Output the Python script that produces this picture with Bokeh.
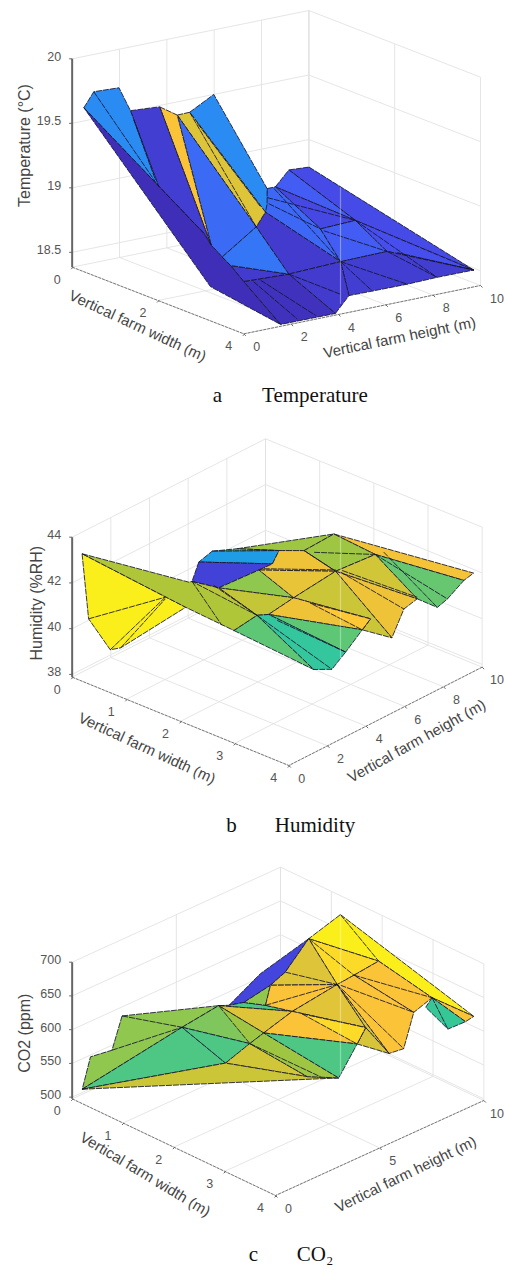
import numpy as np
from bokeh.plotting import figure
from bokeh.embed import file_html
from bokeh.resources import INLINE
from bokeh.models import Range1d
from bokeh.core.properties import value

# ---- data: surface nodes (width m, height m, value) ----
temp_w=[2.00,3.92,2.54,2.00,2.00,2.24,2.00,2.98,2.00,2.95,3.66,3.69,3.68,3.67,2.00,3.00,3.96,2.98,3.95,2.45,1.37,1.27,2.00,1.23,2.15,1.75,1.02,0.68,1.54,1.01,0.14,0.25,0.55,2.56,0.72,0.97,1.46,2.00,3.02,3.92,3.02,3.93,2.00,2.00,2.29,3.60,3.03,2.00]
temp_h=[6.38,9.86,7.36,5.53,4.96,6.43,4.61,5.94,4.54,7.96,8.78,7.47,6.01,5.04,4.15,3.71,3.94,1.84,1.64,2.25,2.48,3.68,4.61,2.21,2.44,2.70,1.85,1.23,2.78,1.83,0.24,0.46,0.98,1.20,1.30,1.76,2.64,4.33,2.19,2.40,2.49,3.16,4.90,4.68,6.48,4.81,8.24,4.61]
temp_v=[19.18,18.50,18.80,19.19,19.08,18.73,19.08,18.59,18.90,18.59,18.45,18.45,18.45,18.45,18.80,18.58,18.39,18.59,18.39,18.63,19.67,19.75,18.96,19.64,18.65,18.68,19.69,19.64,18.74,19.07,19.63,19.76,19.81,18.52,19.57,19.12,19.59,18.95,18.58,18.40,18.58,18.40,19.07,18.96,18.72,18.46,18.58,19.01]
temp_faces=[[0,1,2,3],[4,3,2],[4,2,5],[6,4,5,7,8],[5,2,9,7],[2,1,9],[7,9,1,10,11,12,13],[14,8,7,15],[15,7,13,16],[17,15,16,18],[19,15,17],[20,21,6,22,8],[23,20,8,14],[23,14,24,25],[26,23,25],[27,26,25,28,29],[30,31,32,27,29,28],[24,14,15,19],[30,28,25,24,19,17,18,33]]
temp_levels=[.12,.17,.11,.20,.17,.13,.08,.07,.07,.04,.07,.30,.80,.21,.85,.08,.30,.24,.03]
temp_edges=[[31,29],[34,35],[20,14],[36,37],[38,39],[40,41],[42,7],[43,5],[44,9],[7,12],[7,11],[2,10],[15,45],[9,10],[46,1],[47,2]]

hum_w=[1.94,3.92,3.83,2.74,3.68,3.59,3.40,0.96,1.68,1.32,2.34,0.86,1.36,0.90,1.29,1.26,1.06,3.28,3.24,2.08,3.01,2.97,2.16,2.03,1.85,2.36,3.15,3.25,3.16,0.09,0.15,0.35,0.45,1.05,1.05,0.86,0.86,1.63,1.21,2.37,2.42,2.43,3.40,2.84,1.84,1.30,2.33]
hum_h=[8.10,9.78,9.53,8.00,9.10,8.83,8.32,5.84,7.29,7.00,7.07,4.83,6.55,4.03,6.05,4.05,3.23,7.97,7.46,5.63,6.57,7.11,4.11,3.87,3.18,5.71,5.32,4.33,3.64,0.26,0.43,0.99,1.25,2.93,3.09,2.41,2.41,3.18,3.93,3.97,7.10,7.16,8.32,8.16,7.36,6.27,7.11]
hum_v=[42.53,42.01,41.71,42.45,40.94,40.60,41.01,41.91,41.90,41.68,41.73,42.14,41.33,42.05,41.21,41.26,41.70,40.60,39.52,40.94,40.03,40.24,40.94,40.88,40.34,40.94,39.73,39.50,39.70,43.25,40.39,38.99,39.06,40.69,41.72,41.17,41.10,40.35,41.37,40.94,41.76,41.81,41.08,42.58,41.95,41.18,41.76]
hum_faces=[[0,1,2,3],[3,2,4,5,6],[7,0,8,9],[0,3,10,8],[11,7,9],[11,9,12,13],[13,12,14,15,16],[9,8,10,14,12],[10,3,6],[10,6,17,18],[15,14,19],[14,10,19],[19,10,18,20,21],[15,19,22,23],[16,15,23,24],[22,19,21,20],[25,21,20],[22,20,26],[23,22,26,27,28],[24,23,28],[29,30,31,32,33],[29,34,16,23,24,33]]
hum_levels=[.84,.63,.70,.70,.60,.36,.09,.83,.78,.83,.68,.82,.77,.76,.74,.83,.87,.62,.56,.62,.97,.72]
hum_edges=[[30,35],[31,35],[32,36],[16,37],[38,23],[23,27],[39,26],[40,17],[41,42],[3,4],[43,5],[44,3],[45,46],[8,10]]

co2_w=[1.38,3.90,3.49,2.43,1.17,3.82,3.65,3.43,1.21,1.03,1.18,1.20,1.25,2.22,2.07,1.16,1.39,1.72,3.31,3.21,3.07,2.84,2.79,0.49,1.08,0.10,0.18,0.39,1.87,1.90,1.99,1.87,2.90,3.06,2.96,2.13]
co2_h=[9.51,9.76,8.76,8.78,8.50,9.56,9.13,8.60,4.58,6.52,7.35,6.59,5.19,8.11,7.67,4.20,5.89,6.37,8.32,8.08,7.72,7.16,6.87,1.20,2.64,0.24,0.44,0.96,2.80,4.56,3.67,6.48,4.21,5.33,4.70,7.68]
co2_v=[686,622,649,665,657,614,603,635,615,628,624,616,612,646,633,618,603,599,627,573,566,604,582,621,605,512,560,570,578,599,599,599,575,563,570,634]
co2_faces=[[0,1,2,3,4],[2,1,5],[2,5,6,7],[8,9,4,10,11,12],[4,3,13,14],[11,10,4,14],[15,8,12,16,17],[12,11,16],[13,3,2,18],[14,13,18,19,20],[16,11,14,17],[17,14,21],[14,20,21],[21,20,22],[23,15,24,25,26,27],[25,24,28],[24,15,29,30],[24,30,28],[15,17,29],[15,29,30],[29,17,21,22],[31,21,22],[28,30,32],[25,28,32,33],[30,29,33,32],[29,22,33]]
co2_levels=[.97,.85,.57,.10,.92,.80,.60,.68,.85,.85,.85,.81,.79,.79,.68,.60,.66,.60,.80,.70,.85,.92,.78,.77,.70,.60]
co2_edges=[[23,24],[27,24],[30,34],[13,2],[35,18],[14,19],[10,14],[2,6],[4,13],[0,3],[16,14]]

temp_zticks=[18.5,19,19.5,20]; temp_zlabels=["18.5","19","19.5","20"]; temp_wticks=[0,2,4]; temp_hticks=[0,2,4,6,8,10]
hum_zticks=[38,40,42,44]; hum_zlabels=["38","40","42","44"]; hum_wticks=[0,1,2,3,4]; hum_hticks=[0,2,4,6,8,10]
co2_zticks=[500,550,600,650,700]; co2_zlabels=["500","550","600","650","700"]; co2_wticks=[0,1,2,3,4]; co2_hticks=[0,5,10]

# ---- colormap ----
STOPS=[(0.2422,0.1504,0.6603),(0.2810,0.3228,0.9579),(0.1786,0.5289,0.9682),(0.0689,0.6948,0.8394),(0.2161,0.7843,0.5923),(0.6720,0.7793,0.2227),(0.9970,0.7659,0.2199),(0.9769,0.9839,0.0805)]
def col(c):
    t=min(max(c,0),1)*7; i=min(int(t),6); f=t-i
    r=[int(255*(STOPS[i][k]*(1-f)+STOPS[i+1][k]*f)) for k in range(3)]
    return "#%02x%02x%02x"%tuple(r)

# ---- layout of each panel (3x px for projection, page px for captions) ----
PANELS=[
 dict(off=0,O=(215,800),W4=(730,1000),H10=(710,-145),zlim=(18.385,20.0),ztop=175,
  W=temp_w,H=temp_h,V=temp_v,F=temp_faces,L=temp_levels,E=temp_edges,zt=temp_zticks,zl=temp_zlabels,wt=temp_wticks,ht=temp_hticks,
  zlab="Temperature (°C)",zpos=(73,435),wpos=(412,975),wang=24.9,hpos=(1197,1010),hang=11.6,
  cap="a",capname="Temperature",capy=394,capx=217,art=(560,910)),
 dict(off=410,O=(215,800),W4=(865,1065),H10=(580,-295),zlim=(37.88,44.0),ztop=380,
  W=hum_w,H=hum_h,V=hum_v,F=hum_faces,L=hum_levels,E=hum_edges,zt=hum_zticks,zl=hum_zlabels,wt=hum_wticks,ht=hum_hticks,
  zlab="Humidity (%RH)",zpos=(107,578),wpos=(440,1012),wang=24.9,hpos=(1248,990),hang=29,
  cap="b",capname="Humidity",capy=824,capx=231,art=(372,775)),
 dict(off=850,O=(215,745),W4=(825,1035),H10=(625,-285),zlim=(497.5,700.0),ztop=335,
  W=co2_w,H=co2_h,V=co2_v,F=co2_faces,L=co2_levels,E=co2_edges,zt=co2_zticks,zl=co2_zlabels,wt=co2_wticks,ht=co2_hticks,
  zlab="CO2 (ppm)",zpos=(72,548),wpos=(435,970),wang=31,hpos=(1215,970),hang=26,
  cap="c",capname="CO₂",capy=1253,capx=253,art=(192,685)),
]

p=figure(width=505,height=1266,x_range=Range1d(0,505),y_range=Range1d(1266,0),output_backend="svg",toolbar_location=None,min_border=0)
p.axis.visible=False;p.grid.visible=False;p.outline_line_color=None

SANS=value("Liberation Sans");SERIF=value("Liberation Serif")
for P in PANELS:
    off=P['off'];O=np.array(P['O'],float);ew=(np.array(P['W4'],float)-O)/4;eh=np.array(P['H10'],float)/10
    z0,z1=P['zlim'];k=(O[1]-P['ztop'])/(z1-z0)
    def S(w,h,z):
        s=O+ew*w+eh*h; return (s[0]/3,off+(s[1]-k*(z-z0))/3)
    gx=[];gy=[]
    def seg(a,b):
        A=S(*a);B=S(*b);gx.append([A[0],B[0]]);gy.append([A[1],B[1]])
    for w in P['wt']:
        seg((w,0,z0),(w,10,z0));seg((w,10,z0),(w,10,z1))
    for h in P['ht']:
        seg((0,h,z0),(4,h,z0));seg((0,h,z0),(0,h,z1))
    for z in P['zt']:
        seg((0,0,z),(0,10,z));seg((0,10,z),(4,10,z))
    seg((0,10,z0),(0,10,z1))
    p.multi_line(gx,gy,line_color="#e2e2e2",line_width=0.9)
    ax=[S(0,0,z0),S(4,0,z0),S(4,10,z0)]
    p.line([a[0] for a in ax],[a[1] for a in ax],line_color="#777777",line_width=1,line_dash="3 1")
    A=S(0,0,z0);B=S(0,0,z1)
    p.line([A[0],B[0]],[A[1],B[1]],line_color="#666666",line_width=2)
    tx=[];ty=[]
    for z in P['zt']:
        a=S(0,0,z);tx.append([a[0]-3,a[0]]);ty.append([a[1],a[1]])
    for w in P['wt']:
        a=S(w,0,z0);tx.append([a[0]-1,a[0]+1]);ty.append([a[1]+2,a[1]])
    for h in P['ht']:
        a=S(4,h,z0);tx.append([a[0],a[0]+2]);ty.append([a[1],a[1]+2])
    p.multi_line(tx,ty,line_color="#666666",line_width=1)
    pts=[S(w,h,v) for w,h,v in zip(P['W'],P['H'],P['V'])]
    xs=[[pts[i][0] for i in f] for f in P['F']]
    ys=[[pts[i][1] for i in f] for f in P['F']]
    p.patches(xs,ys,fill_color=[col(c) for c in P['L']],line_color="#15152e",line_width=1,line_alpha=0.85,line_dash="6 1")
    p.multi_line([[pts[i][0] for i in e] for e in P['E']],[[pts[i][1] for i in e] for e in P['E']],line_color="#15152e",line_width=1,line_alpha=0.85,line_dash="6 1")
    p.line([340,340],[off+P['art'][0]/3,off+P['art'][1]/3],line_color="#ffffff",line_alpha=0.35,line_width=1.2)
    tc="#555555"
    a=[S(0,0,z) for z in P['zt']]
    p.text([q[0]-11 for q in a],[q[1]-2.5 for q in a],text=P['zl'],text_align="right",text_baseline="middle",text_font=SANS,text_font_size="12.5px",text_color=tc)
    a=[S(w,0,z0) for w in P['wt']]
    p.text([q[0]-15 for q in a],[q[1]+12 for q in a],text=[str(w) for w in P['wt']],text_align="center",text_baseline="middle",text_font=SANS,text_font_size="12.5px",text_color=tc)
    a=[S(4,h,z0) for h in P['ht']]
    p.text([q[0]+13 if h<10 else min(q[0]+17,496.5) for q,h in zip(a,P['ht'])],[q[1]+12.5 for q in a],text=[str(h) for h in P['ht']],text_align="center",text_baseline="middle",text_font=SANS,text_font_size="12.5px",text_color=tc)
    for txt,pos,ang,fs in [(P['zlab'],P['zpos'],90,"16px"),("Vertical farm width (m)",P['wpos'],-P['wang'],"15px"),("Vertical farm height (m)",P['hpos'],P['hang'],"15px")]:
        p.text([pos[0]/3],[off+pos[1]/3],text=[txt],angle=np.radians(ang),text_align="center",text_baseline="middle",text_font=SANS,text_font_size=fs,text_color="#444444")
    p.text([P['capx']],[P['capy']],text=[P['cap']],text_align="center",text_baseline="middle",text_font=SERIF,text_font_size="21px",text_color="#111111")
    p.text([314.5],[P['capy']],text=[P['capname']],text_align="center",text_baseline="middle",text_font=SERIF,text_font_size="21px",text_color="#111111")
open("out.html","w").write(file_html(p,INLINE))
